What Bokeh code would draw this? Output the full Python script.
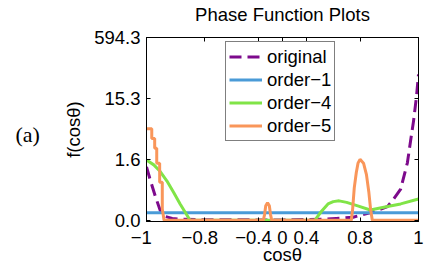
import numpy as np
from bokeh.plotting import figure
from bokeh.layouts import row
from bokeh.models import (Range1d, FixedTicker, CustomJSTickFormatter, LinearAxis,
                          Legend, LegendItem, Label)
from bokeh.embed import file_html
from bokeh.resources import INLINE

# ---- axis ticks (both axes of the original are warped) ----
X_TICKS = [-1, -0.8, -0.4, 0, 0.4, 0.8, 1]
# negative labels keep their digits centred on the tick, as in the original
PAD = "\u00a0\u00a0"
X_TICK_LABELS = ["−1" + PAD, "−0.8" + PAD, "−0.4" + PAD, "0", "0.4", "0.8", "1"]
X_WARP = [0.0, 0.215, 0.412, 0.5, 0.588, 0.785, 1.0]   # axis fraction of each x tick
Y_TICKS = [0.0, 1.6, 15.3, 594.3]
Y_TICK_LABELS = ["0.0", "1.6", "15.3", "594.3"]
Y_WARP = [0, 1, 2, 3]

# ---- series (cos theta, f) ----
orig_x = [-1, -0.986, -0.969, -0.953, -0.936, -0.912, -0.878, -0.8, -0.4, 0, 0.4,
          0.548, 0.622, 0.748, 0.837, 0.894, 0.915, 0.939, 0.956, 0.962, 0.973,
          0.983, 0.993, 1.0]
orig_y = [1.40, 1.03, 0.61, 0.26, 0.10, 0.05, 0.025, 0.015, 0.01, 0.01, 0.02,
          0.03, 0.05, 0.08, 0.20, 0.36, 0.56, 0.82, 1.33, 1.51, 5.8,
          10.2, 30.4, 243.0]

o1_x = [-1, 1]
o1_y = [0.2, 0.2]

o4_x = [-1, -0.975, -0.953, -0.930, -0.907, -0.885, -0.862, -0.851, -0.8, 0, 0.4,
        0.462, 0.511, 0.561, 0.6, 0.644, 0.7, 0.783, 0.835, 0.894, 0.939, 1.0]
o4_y = [1.58, 1.455, 1.28, 1.03, 0.73, 0.43, 0.14, 0.0, 0.0, 0.0, 0.0,
        0.0, 0.23, 0.43, 0.49, 0.51, 0.47, 0.38, 0.27, 0.36, 0.43, 0.56]

o5_x = [-1, -0.982, -0.982, -0.972, -0.972, -0.965, -0.965, -0.955, -0.955, -0.946,
        -0.946, -0.940, -0.6, -0.32, -0.30, -0.28, -0.25, -0.22, -0.20, -0.18,
        0.2, 0.735, 0.745, 0.757, 0.772, 0.785, 0.800, 0.812, 0.822, 0.830, 0.836,
        0.842, 1.0]
o5_y = [8.5, 8.5, 6.3, 6.3, 4.1, 4.1, 1.5, 1.5, 1.0, 1.0,
        0.3, 0.0, 0.0, 0.0, 0.15, 0.38, 0.46, 0.38, 0.15, 0.0,
        0.0, 0.0, 0.3, 0.85, 1.25, 1.5, 1.6, 1.5, 1.2, 0.75, 0.3,
        0.0, 0.0]

TITLE = "Phase Function Plots"
NAMES = ["original", "order−1", "order−4", "order−5"]
COLORS = ["#7d0a8c", "#4a9bd7", "#80e447", "#f9965a"]


def wx(v):
    return np.interp(np.asarray(v, dtype=float), X_TICKS, X_WARP)


def wy(v):
    return np.interp(np.asarray(v, dtype=float), Y_TICKS, Y_WARP)


FONT = "Liberation Sans"
FS = "18.5px"
H = 267
TAG_W = 60

# ---- small side panel holding the "(a)" tag ----
fa = figure(width=TAG_W, height=H, output_backend="svg", toolbar_location=None,
            x_axis_location=None, y_axis_location=None, min_border=0,
            x_range=Range1d(0, 1), y_range=Range1d(0, 1))
fa.outline_line_color = None
fa.xgrid.visible = False
fa.ygrid.visible = False
fa.add_layout(Label(x=15, y=87, x_units="screen", y_units="screen", text="(a)",
                    text_align="left", text_baseline="alphabetic",
                    text_font="Liberation Serif", text_font_size="22px",
                    text_color="black"))

# ---- main plot ----
p = figure(width=427 - TAG_W, height=H, output_backend="svg", toolbar_location=None,
           x_range=Range1d(0, 1), y_range=Range1d(-0.02, 3),
           min_border_left=144 - TAG_W, min_border_right=9, min_border_top=34,
           min_border_bottom=45)
p.xgrid.visible = False
p.ygrid.visible = False
p.outline_line_color = "black"

xt = FixedTicker(ticks=X_WARP)
yt = FixedTicker(ticks=Y_WARP)
xf = CustomJSTickFormatter(args=dict(labels=X_TICK_LABELS), code="return labels[index];")
yf = CustomJSTickFormatter(args=dict(labels=Y_TICK_LABELS), code="return labels[index];")

top = LinearAxis(ticker=xt, formatter=CustomJSTickFormatter(code="return '';"))
right = LinearAxis(ticker=yt, formatter=CustomJSTickFormatter(code="return '';"))
p.add_layout(top, "above")
p.add_layout(right, "right")

for ax in p.below:
    ax.ticker = xt
    ax.formatter = xf
for ax in p.left:
    ax.ticker = yt
    ax.formatter = yf

for ax in list(p.below) + list(p.left) + [top, right]:
    ax.major_tick_in = 4
    ax.major_tick_out = 0
    ax.minor_tick_line_color = None
    ax.axis_line_color = "black"
    ax.major_tick_line_color = "black"
    ax.major_label_text_font = FONT
    ax.major_label_text_font_size = FS
    ax.major_label_text_color = "black"
    ax.axis_label_text_font = FONT
    ax.axis_label_text_font_size = FS
    ax.axis_label_text_font_style = "normal"
    ax.axis_label_text_color = "black"

for ax in [top, right]:
    ax.major_label_text_font_size = "0px"
    ax.major_label_standoff = 0

# the chart title sits on the top frame edge
top.axis_label = TITLE
top.axis_label_standoff = 13

for ax in p.below:
    ax.axis_label = "cosθ"
    ax.major_label_standoff = 5
    ax.axis_label_standoff = -7
for ax in p.left:
    ax.axis_label = "f(cosθ)"
    ax.major_label_standoff = 6
    ax.axis_label_standoff = 7

series = [(orig_x, orig_y), (o1_x, o1_y), (o4_x, o4_y), (o5_x, o5_y)]
rends = []
for i, (sx, sy) in enumerate(series):
    kw = dict(line_dash="12 6") if i == 0 else {}
    r = p.line(x=wx(sx), y=wy(sy), line_color=COLORS[i], line_width=3, **kw)
    rends.append(r)

legend = Legend(items=[LegendItem(label=n, renderers=[r]) for n, r in zip(NAMES, rends)],
                location=(79, 80), margin=0, padding=3, spacing=0,
                label_height=23, glyph_height=23, glyph_width=33, label_standoff=5,
                border_line_color="black", border_line_width=1,
                background_fill_color="white", background_fill_alpha=1,
                label_text_font=FONT, label_text_font_size=FS, label_text_color="black")
p.add_layout(legend)

layout = row(fa, p)
open("out.html", "w").write(file_html(layout, INLINE))
